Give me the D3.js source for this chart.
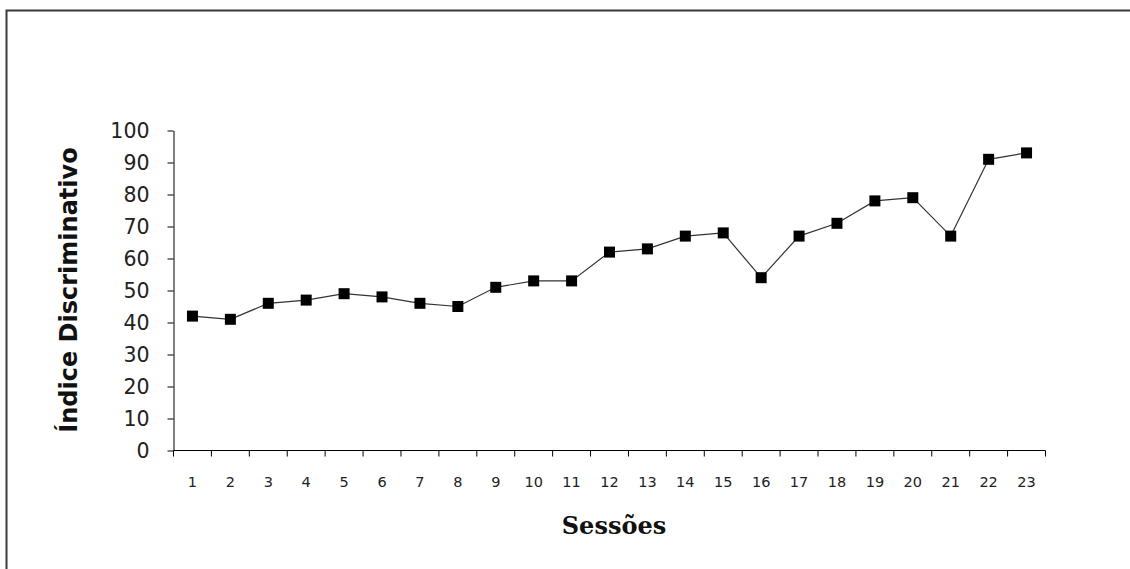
<!DOCTYPE html>
<html>
<head>
<meta charset="utf-8">
<script src="https://cdn.jsdelivr.net/npm/d3@7"></script>
<style>
  html, body { margin: 0; padding: 0; background: #fff; }
  svg { display: block; }
</style>
</head>
<body>
<svg id="chart" width="1130" height="569"></svg>
<script>
const sessions = ["1","2","3","4","5","6","7","8","9","10","11","12","13","14","15","16","17","18","19","20","21","22","23"];
const values = [42, 41, 46, 47, 49, 48, 46, 45, 51, 53, 53, 62, 63, 67, 68, 54, 67, 71, 78, 79, 67, 91, 93];
const yTicks = [0, 10, 20, 30, 40, 50, 60, 70, 80, 90, 100];
const yTitle = "Índice Discriminativo";
const xTitle = "Sessões";

(function () {
const svg = d3.select("#chart");
const W = 1130, H = 569;
const mLeft = 173.5, mRight = 1045.5, mTop = 130.5, mBottom = 450.5;

svg.append("rect").attr("width", W).attr("height", H).attr("fill", "#fff");
// outer frame (only top and left visible)
svg.append("rect")
  .attr("x", 6.5).attr("y", 10.5)
  .attr("width", W + 20).attr("height", H + 20)
  .attr("fill", "none").attr("stroke", "#3a3a3a").attr("stroke-width", 2);

const x = d3.scaleBand().domain(sessions).range([mLeft, mRight]).padding(0);
const y = d3.scaleLinear().domain([0, 100]).range([mBottom, mTop]);

// Y axis
const yAxis = svg.append("g")
  .attr("transform", `translate(${mLeft},0)`)
  .call(d3.axisLeft(y).tickValues(yTicks).tickSize(6).tickPadding(18).tickSizeOuter(0));
yAxis.select(".domain").attr("stroke", "#000").attr("stroke-width", 1);
yAxis.selectAll(".tick line").attr("stroke", "#000");
yAxis.selectAll("text")
  .attr("font-family", "DejaVu Sans, Verdana, sans-serif")
  .attr("font-size", 20.5).attr("fill", "#222");

// X axis with ticks at category boundaries
const boundaries = sessions.map(s => x(s)).concat([mRight]);
const xg = svg.append("g").attr("transform", `translate(0,${mBottom})`);
xg.append("line").attr("x1", mLeft).attr("x2", mRight).attr("y1", 0).attr("y2", 0)
  .attr("stroke", "#000").attr("stroke-width", 1);
xg.selectAll("line.tk").data(boundaries).join("line").attr("class", "tk")
  .attr("x1", d => d).attr("x2", d => d).attr("y1", 0).attr("y2", 6)
  .attr("stroke", "#000").attr("stroke-width", 1);
xg.selectAll("text").data(sessions).join("text")
  .attr("x", d => x(d) + x.bandwidth() / 2)
  .attr("y", 36)
  .attr("text-anchor", "middle")
  .attr("font-family", "DejaVu Sans, Verdana, sans-serif")
  .attr("font-size", 14.5).attr("fill", "#222")
  .text(d => d);

// line
const line = d3.line()
  .x((d, i) => x(sessions[i]) + x.bandwidth() / 2)
  .y(d => y(d));
svg.append("path").datum(values)
  .attr("d", line).attr("fill", "none").attr("stroke", "#333").attr("stroke-width", 1.2);

// markers
const ms = 11;
svg.selectAll("rect.m").data(values).join("rect").attr("class", "m")
  .attr("x", (d, i) => x(sessions[i]) + x.bandwidth() / 2 - ms / 2)
  .attr("y", d => y(d) - ms / 2)
  .attr("width", ms).attr("height", ms).attr("fill", "#000");

// titles
svg.append("text")
  .attr("transform", `translate(77,290) rotate(-90)`)
  .attr("text-anchor", "middle")
  .attr("font-family", "DejaVu Sans, Verdana, sans-serif")
  .attr("font-weight", "bold").attr("font-size", 24).attr("fill", "#111")
  .text(yTitle);

svg.append("text")
  .attr("x", 614).attr("y", 534)
  .attr("text-anchor", "middle")
  .attr("font-family", "DejaVu Serif, serif")
  .attr("font-weight", "bold").attr("font-size", 24).attr("fill", "#111")
  .text(xTitle);
})();
</script>
</body>
</html>
